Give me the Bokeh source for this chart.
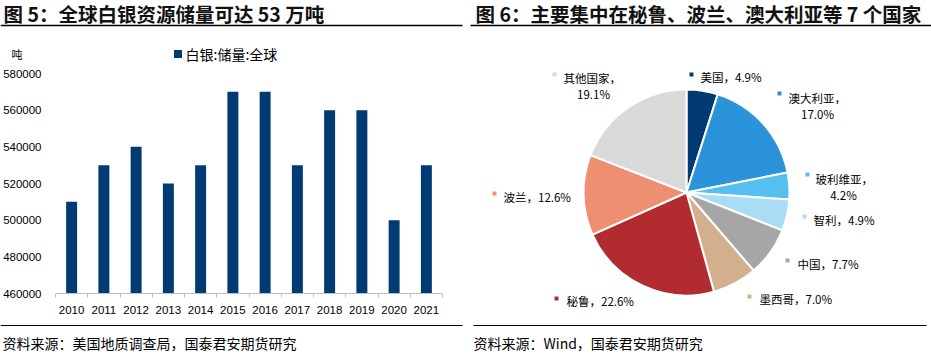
import math
from bokeh.plotting import figure
from bokeh.layouts import column, row
from bokeh.models import Range1d, FixedTicker, BasicTickFormatter
from bokeh.core.properties import value
from bokeh.embed import file_html
from bokeh.resources import INLINE

# ---------------- data ----------------
years = ["2010", "2011", "2012", "2013", "2014", "2015",
         "2016", "2017", "2018", "2019", "2020", "2021"]
reserves = [510000, 530000, 540000, 520000, 530000, 570000,
            570000, 530000, 560000, 560000, 500000, 530000]
series_name = "白银:储量:全球"
y_ticks = [460000, 480000, 500000, 520000, 540000, 560000, 580000]
unit = "吨"

countries = ["美国", "澳大利亚", "玻利维亚", "智利", "中国",
             "墨西哥", "秘鲁", "波兰", "其他国家"]
shares = [4.9, 17.0, 4.2, 4.9, 7.7, 7.0, 22.6, 12.6, 19.1]
slice_colors = ["#003B73", "#2B93D9", "#55C0EF", "#A9DDF5", "#A6A6A6",
                "#D4AF8E", "#B22B2F", "#EE8F72", "#D9D9D9"]
bar_color = "#003B73"

title_left = "图 5：全球白银资源储量可达 53 万吨"
title_right = "图 6：主要集中在秘鲁、波兰、澳大利亚等 7 个国家"
source_left = "资料来源：美国地质调查局，国泰君安期货研究"
source_right = "资料来源：Wind，国泰君安期货研究"

FONT = "Noto Sans CJK SC"
NUMFONT = "Liberation Sans"
W, H = 931, 355
TOP_H, BOT_H = 62, 37
MID_H = H - TOP_H - BOT_H
LEFT_W = 465
RIGHT_W = W - LEFT_W


def strip(height):
    p = figure(width=W, height=height, x_range=Range1d(0, W),
               y_range=Range1d(height, 0), min_border=0,
               x_axis_location=None, y_axis_location=None,
               toolbar_location=None, output_backend="svg")
    p.grid.visible = False
    p.outline_line_color = None
    p.background_fill_color = "white"
    p.border_fill_color = "white"
    return p


# ---------------- top strip: titles, unit, legend ----------------
top = strip(TOP_H)
top.text(x=[3, 475], y=[13, 13], text=[title_left, title_right],
         text_font=value(FONT), text_font_size="19.5px", text_font_style="bold",
         text_baseline="middle", text_align="left", text_color="#111111")
top.segment(x0=[0, 470], y0=[25, 25], x1=[462, W], y1=[25, 25],
            line_color="#000000", line_width=1.5)
top.text(x=[11], y=[53], text=[unit], text_font=value(FONT),
         text_font_size="11px", text_baseline="middle", text_align="left",
         text_color="#000000")
# legend of the bar series
top.scatter(x=[177.5], y=[53.5], marker="square", size=8,
            fill_color=bar_color, line_color=None)
top.text(x=[185], y=[53], text=[series_name], text_font=value(FONT),
         text_font_size="14px", text_baseline="middle", text_align="left",
         text_color="#000000")

# ---------------- bottom strip: sources ----------------
bot = strip(BOT_H)
bot.segment(x0=[0, 473], y0=[7, 7], x1=[462, 926], y1=[7, 7],
            line_color="#000000", line_width=1.2)
bot.text(x=[2, 473], y=[24, 24], text=[source_left, source_right],
         text_font=value(FONT), text_font_size="14px",
         text_baseline="middle", text_align="left", text_color="#000000")

# ---------------- left: bar chart ----------------
p1 = figure(width=LEFT_W, height=MID_H,
            x_range=Range1d(-0.5, len(years) - 0.5),
            y_range=Range1d(y_ticks[0], y_ticks[-1]),
            min_border_left=55, min_border_right=23,
            min_border_top=73 - TOP_H, min_border_bottom=25,
            toolbar_location=None, output_backend="svg")
p1.frame_align = False
p1.grid.visible = False
p1.outline_line_color = None
xs = list(range(len(years)))
p1.vbar(x=xs, top=reserves, bottom=y_ticks[0], width=0.34,
        fill_color=bar_color, line_color=None)

p1.yaxis.ticker = FixedTicker(ticks=y_ticks)
p1.yaxis.formatter = BasicTickFormatter(use_scientific=False)
p1.yaxis.axis_line_color = None
p1.yaxis.major_tick_line_color = None
p1.yaxis.minor_tick_line_color = None
p1.yaxis.major_label_standoff = 8
p1.yaxis.major_label_text_font = NUMFONT
p1.yaxis.major_label_text_font_size = "11.5px"
p1.yaxis.major_label_text_color = "#000000"

p1.xaxis.ticker = FixedTicker(ticks=xs,
                              minor_ticks=[i - 0.5 for i in range(len(years) + 1)])
p1.xaxis.major_label_overrides = {i: y for i, y in enumerate(years)}
p1.xaxis.axis_line_color = "#BFBFBF"
p1.xaxis.major_tick_line_color = None
p1.xaxis.minor_tick_line_color = "#BFBFBF"
p1.xaxis.minor_tick_in = 0
p1.xaxis.minor_tick_out = 4
p1.xaxis.major_label_standoff = 6
p1.xaxis.major_label_text_font = NUMFONT
p1.xaxis.major_label_text_font_size = "11.5px"
p1.xaxis.major_label_text_color = "#000000"

# ---------------- right: pie chart ----------------
p2 = figure(width=RIGHT_W, height=MID_H, x_range=Range1d(0, RIGHT_W),
            y_range=Range1d(0, MID_H), min_border=0,
            x_axis_location=None, y_axis_location=None,
            toolbar_location=None, output_backend="svg")
p2.frame_align = False
p2.grid.visible = False
p2.outline_line_color = None


def cx(x):
    return x - LEFT_W


def cy(y):
    return TOP_H + MID_H - y


total = sum(shares)
starts, ends = [], []
acc = 0.0
for s in shares:
    starts.append(math.pi / 2 - 2 * math.pi * acc / total)
    acc += s
    ends.append(math.pi / 2 - 2 * math.pi * acc / total)

n = len(shares)
p2.wedge(x=[cx(686)] * n, y=[cy(192)] * n, radius=103, radius_units="screen",
         start_angle=starts, end_angle=ends, direction="clock",
         fill_color=slice_colors, line_color="white", line_width=2)

# label layout (canvas pixel positions): marker, line1 start, (line2 centre)
label_pos = {
    "美国": ((691, 74), (700, 76), None),
    "澳大利亚": ((779, 93), (788, 97), (817, 113)),
    "玻利维亚": ((807, 174), (815, 178), (843, 194)),
    "智利": ((804, 216), (813, 219), None),
    "中国": ((787, 260), (797, 263), None),
    "墨西哥": ((749, 296), (759, 298), None),
    "秘鲁": ((556, 298), (566, 300), None),
    "波兰": ((494, 193), (503, 196), None),
    "其他国家": ((554, 74), (563, 77), (593, 93)),
}

mx, my, mc = [], [], []
t1x, t1y, t1 = [], [], []
t2x, t2y, t2 = [], [], []
for name, share, col in zip(countries, shares, slice_colors):
    (mpx, mpy), (ax, ay), second = label_pos[name]
    mx.append(cx(mpx)); my.append(cy(mpy)); mc.append(col)
    pct = f"{share:.1f}%"
    if second is None:
        t1x.append(cx(ax)); t1y.append(cy(ay)); t1.append(f"{name}，{pct}")
    else:
        t1x.append(cx(ax)); t1y.append(cy(ay)); t1.append(f"{name}，")
        t2x.append(cx(second[0])); t2y.append(cy(second[1])); t2.append(pct)

p2.scatter(x=mx, y=my, marker="square", size=4, fill_color=mc, line_color=None)
p2.text(x=t1x, y=t1y, text=t1, text_font=value(FONT), text_font_size="11.5px",
        text_baseline="middle", text_align="left", text_color="#000000")
p2.text(x=t2x, y=t2y, text=t2, text_font=value(FONT), text_font_size="11.5px",
        text_baseline="middle", text_align="center", text_color="#000000")

layout = column(top, row(p1, p2), bot)
open("out.html", "w").write(file_html(layout, INLINE))
